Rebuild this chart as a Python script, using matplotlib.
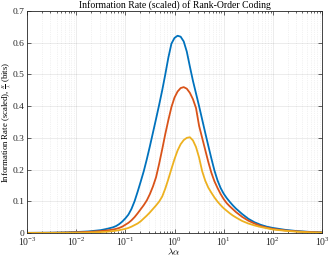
import numpy as np
import matplotlib
matplotlib.use("Agg")
import matplotlib.pyplot as plt
from matplotlib.ticker import LogLocator, NullFormatter

plt.rcParams['font.family'] = ['Liberation Serif', 'DejaVu Serif']
plt.rcParams['mathtext.fontset'] = 'cm'

# log10 of lambda*alpha at which values were read
log_x = [-3, -2.75, -2.5, -2.25, -2, -1.75, -1.5, -1.375, -1.25, -1.1875, -1.125, -1.0625,
         -1.0, -0.9375, -0.875, -0.8125, -0.75, -0.6875, -0.625, -0.5625, -0.5, -0.4375,
         -0.375, -0.3125, -0.25, -0.1875, -0.125, -0.0625, 0, 0.0625, 0.125, 0.1875,
         0.25, 0.3125, 0.375, 0.4375, 0.5, 0.5625, 0.625, 0.6875, 0.75, 0.8125, 0.875,
         0.9375, 1.0, 1.0625, 1.125, 1.1875, 1.25, 1.375, 1.5, 1.625, 1.75, 1.875, 2,
         2.25, 2.5, 2.75, 3]

blue = [0.0005, 0.0007, 0.001, 0.0018, 0.003, 0.005, 0.009, 0.013, 0.018, 0.022, 0.028,
        0.036, 0.046, 0.058, 0.076, 0.1, 0.13, 0.162, 0.195, 0.233, 0.274, 0.317, 0.36,
        0.404, 0.45, 0.5, 0.553, 0.597, 0.615, 0.622, 0.619, 0.604, 0.572, 0.525, 0.48,
        0.44, 0.4, 0.358, 0.316, 0.275, 0.235, 0.197, 0.166, 0.142, 0.124, 0.11, 0.098,
        0.087, 0.077, 0.06, 0.045, 0.034, 0.026, 0.02, 0.016, 0.01, 0.006, 0.0035, 0.002]

orange = [0.0003, 0.0005, 0.0007, 0.0012, 0.002, 0.0035, 0.006, 0.008, 0.011, 0.013,
          0.016, 0.02, 0.026, 0.032, 0.04, 0.05, 0.062, 0.075, 0.088, 0.103, 0.123, 0.147,
          0.176, 0.218, 0.264, 0.312, 0.356, 0.397, 0.427, 0.446, 0.457, 0.46, 0.455,
          0.442, 0.422, 0.394, 0.338, 0.3, 0.262, 0.224, 0.19, 0.163, 0.142, 0.123, 0.107,
          0.094, 0.084, 0.075, 0.066, 0.051, 0.039, 0.03, 0.022, 0.017, 0.013, 0.008,
          0.005, 0.0028, 0.0015]

yellow = [0.0001, 0.0002, 0.0003, 0.0005, 0.0008, 0.0015, 0.003, 0.004, 0.006, 0.0075,
          0.009, 0.011, 0.013, 0.016, 0.02, 0.025, 0.03, 0.037, 0.046, 0.055, 0.065, 0.076,
          0.087, 0.099, 0.115, 0.14, 0.17, 0.202, 0.233, 0.26, 0.28, 0.293, 0.3, 0.302,
          0.292, 0.271, 0.238, 0.195, 0.165, 0.143, 0.127, 0.112, 0.099, 0.088, 0.078,
          0.07, 0.062, 0.055, 0.049, 0.038, 0.03, 0.024, 0.019, 0.015, 0.011, 0.007,
          0.004, 0.002, 0.001]

series = [blue, orange, yellow]
colors = ['#0072BD', '#D95319', '#EDB120']

x_ticks = [1e-3, 1e-2, 1e-1, 1e0, 1e1, 1e2, 1e3]
y_ticks = [0, 0.1, 0.2, 0.3, 0.4, 0.5, 0.6, 0.7]
y_labels = ['0', '0.1', '0.2', '0.3', '0.4', '0.5', '0.6', '0.7']

fig = plt.figure(figsize=(3.28, 2.58), dpi=100)
ax = fig.add_axes([27/328, 25/258, 295/328, 222/258])

x = 10.0 ** np.array(log_x)
for s, c in zip(series, colors):
    ax.plot(x, s, color=c, lw=1.3, solid_joinstyle='round')

ax.set_xscale('log')
ax.set_xlim(1e-3, 1e3)
ax.set_ylim(0, 0.7)
ax.set_xticks(x_ticks)
ax.xaxis.set_minor_locator(LogLocator(base=10, subs=np.arange(2, 10), numticks=20))
ax.xaxis.set_minor_formatter(NullFormatter())
ax.set_yticks(y_ticks)
ax.set_yticklabels(y_labels)

gc = '#262626'
ax.grid(True, which='major', color=gc, alpha=0.12, lw=0.5)
ax.grid(True, which='minor', axis='x', color=gc, alpha=0.12, lw=0.5, ls=':')
for sp in ax.spines.values():
    sp.set_color(gc)
    sp.set_linewidth(0.6)
ax.tick_params(which='both', direction='in', top=True, right=True, colors=gc,
               labelsize=7, width=0.5)
ax.tick_params(axis='y', pad=2, labelsize=6.8)
ax.tick_params(axis='x', pad=2)
ax.tick_params(which='major', length=3)
ax.tick_params(which='minor', length=1.5)
ax.get_yticklabels()[0].set_va('center_baseline')

ax.set_title('Information Rate (scaled) of Rank-Order Coding', fontsize=7, pad=2, color='#000000')
fig.text(174/328, 0.2/258, r'$\lambda\alpha$', fontsize=7, ha='center', va='bottom')
ylab = fig.text(0.5/328, (258 - 122)/258,
                r'Information Rate (scaled), $\genfrac{}{}{0.4}{2}{H}{\lambda}$ (bits)',
                fontsize=6.3, rotation=90, ha='left', va='center')
try:
    fig.canvas.draw()
except Exception:
    ylab.set_text(r'Information Rate (scaled), $\frac{H}{\lambda}$ (bits)')
    ylab.set_fontsize(6)

fig.savefig('out.png', dpi=100)
